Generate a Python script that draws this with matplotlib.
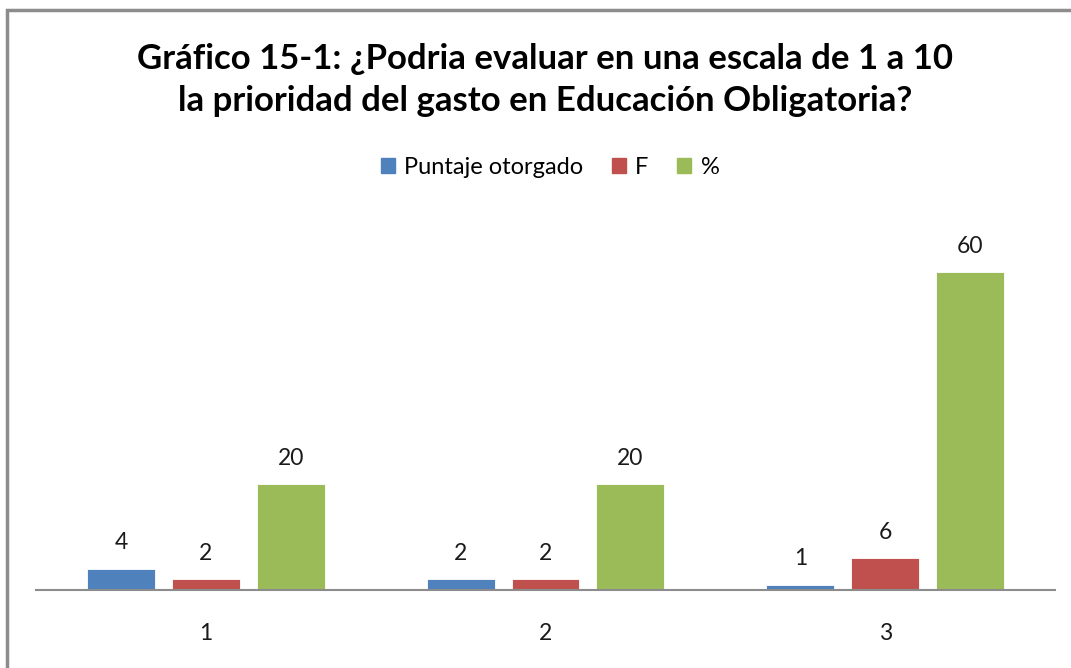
import matplotlib
matplotlib.use("Agg")
import matplotlib.pyplot as plt
import matplotlib.patches as mpatches
import numpy as np

categories = ["1", "2", "3"]
series_names = ["Puntaje otorgado", "F", "%"]
puntaje = [4, 2, 1]
frecuencia = [2, 2, 6]
porcentaje = [20, 20, 60]
colors = ["#4F81BD", "#C0504D", "#9BBB59"]
title = "Gráfico 15-1: ¿Podria evaluar en una escala de 1 a 10\nla prioridad del gasto en Educación Obligatoria?"

plt.rcParams['font.family'] = ['Lato', 'DejaVu Sans']

fig = plt.figure(figsize=(10.71, 6.68), dpi=100)
ax = fig.add_axes([36/1071, 1 - 590/668, (1055 - 36)/1071, (590 - 219)/668])

x = np.arange(len(categories))
width = 0.2
offsets = [-0.25, 0.0, 0.25]
for vals, name, col, off in zip([puntaje, frecuencia, porcentaje], series_names, colors, offsets):
    bars = ax.bar(x + off, vals, width, color=col, label=name, edgecolor='white', linewidth=0.6)
    for b, v in zip(bars, vals):
        ax.text(b.get_x() + b.get_width()/2, v + 2.9, str(v), ha='center', va='bottom',
                fontsize=16.5, color='#1a1a1a')

ax.set_xlim(-0.5, len(categories) - 0.5)
ax.set_ylim(0, 70)
ax.set_xticks(x)
ax.set_xticklabels(categories, fontsize=16.5, color='#1a1a1a')
ax.tick_params(axis='x', length=0, pad=24)
ax.set_yticks([])
for s in ['top', 'right', 'left']:
    ax.spines[s].set_visible(False)
ax.spines['bottom'].set_color('#8c8c8c')
ax.spines['bottom'].set_linewidth(1.5)

fig.text(545/1071, 1 - 80/668, title, ha='center', va='center', fontsize=25,
         fontweight='bold', linespacing=1.4, color='#000000')

handles = [mpatches.Patch(color=c) for c in colors]
fig.legend(handles, series_names, loc='center', bbox_to_anchor=(550/1071, 1 - 167/668),
           ncol=3, frameon=False, fontsize=17, handlelength=0.6, handleheight=0.6,
           handletextpad=0.4, columnspacing=1.2)

frame = mpatches.Rectangle((7/1071, -0.1), 2, 1 - 10.5/668 + 0.1, transform=fig.transFigure,
                           fill=False, edgecolor='#8c8c8c', linewidth=2.5)
fig.patches.append(frame)

fig.savefig("out.png", dpi=100)
